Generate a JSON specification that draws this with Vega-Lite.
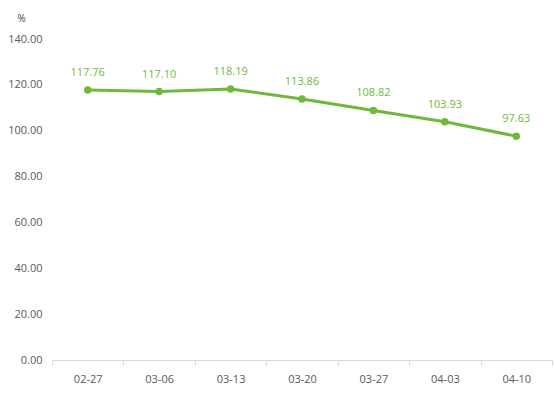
{
  "$schema": "https://vega.github.io/schema/vega-lite/v6.json",
  "width": 500,
  "height": 321,
  "autosize": "none",
  "padding": {"left": 52, "top": 39, "right": 2, "bottom": 33},
  "background": "white",
  "config": {"view": {"stroke": null}, "font": "Open Sans"},
  "data": {"values": [
    {"date": "02-27", "value": 117.76},
    {"date": "03-06", "value": 117.10},
    {"date": "03-13", "value": 118.19},
    {"date": "03-20", "value": 113.86},
    {"date": "03-27", "value": 108.82},
    {"date": "04-03", "value": 103.93},
    {"date": "04-10", "value": 97.63}
  ]},
  "encoding": {
    "x": {"field": "date", "type": "ordinal", "sort": null,
      "scale": {"paddingInner": 0, "paddingOuter": 0},
      "axis": {"title": null, "labelAngle": 0, "labelColor": "#595959", "labelFontSize": 11, "labelPadding": 8,
        "domainColor": "#d9d9d9", "tickColor": "#d9d9d9", "tickSize": 5, "tickBand": "extent", "grid": false}},
    "y": {"field": "value", "type": "quantitative",
      "scale": {"domain": [0, 140]},
      "axis": {"values": [0, 20, 40, 60, 80, 100, 120, 140], "format": ".2f", "grid": false, "domain": false, "ticks": false,
        "labelColor": "#595959", "labelFontSize": 11, "labelPadding": 10,
        "title": "%", "titleAngle": 0, "titleFontWeight": "normal", "titleFontSize": 10, "titleColor": "#404040",
        "titleAlign": "left", "titleBaseline": "middle", "titleX": -35, "titleY": -21}}
  },
  "layer": [
    {"mark": {"type": "line", "color": "#70b83c", "strokeWidth": 3}},
    {"mark": {"type": "point", "filled": true, "color": "#70b83c", "size": 55, "opacity": 1}},
    {"mark": {"type": "text", "color": "#70b83c", "fontSize": 11, "dy": -17},
     "encoding": {"text": {"field": "value", "type": "quantitative", "format": ".2f"}}}
  ]
}
